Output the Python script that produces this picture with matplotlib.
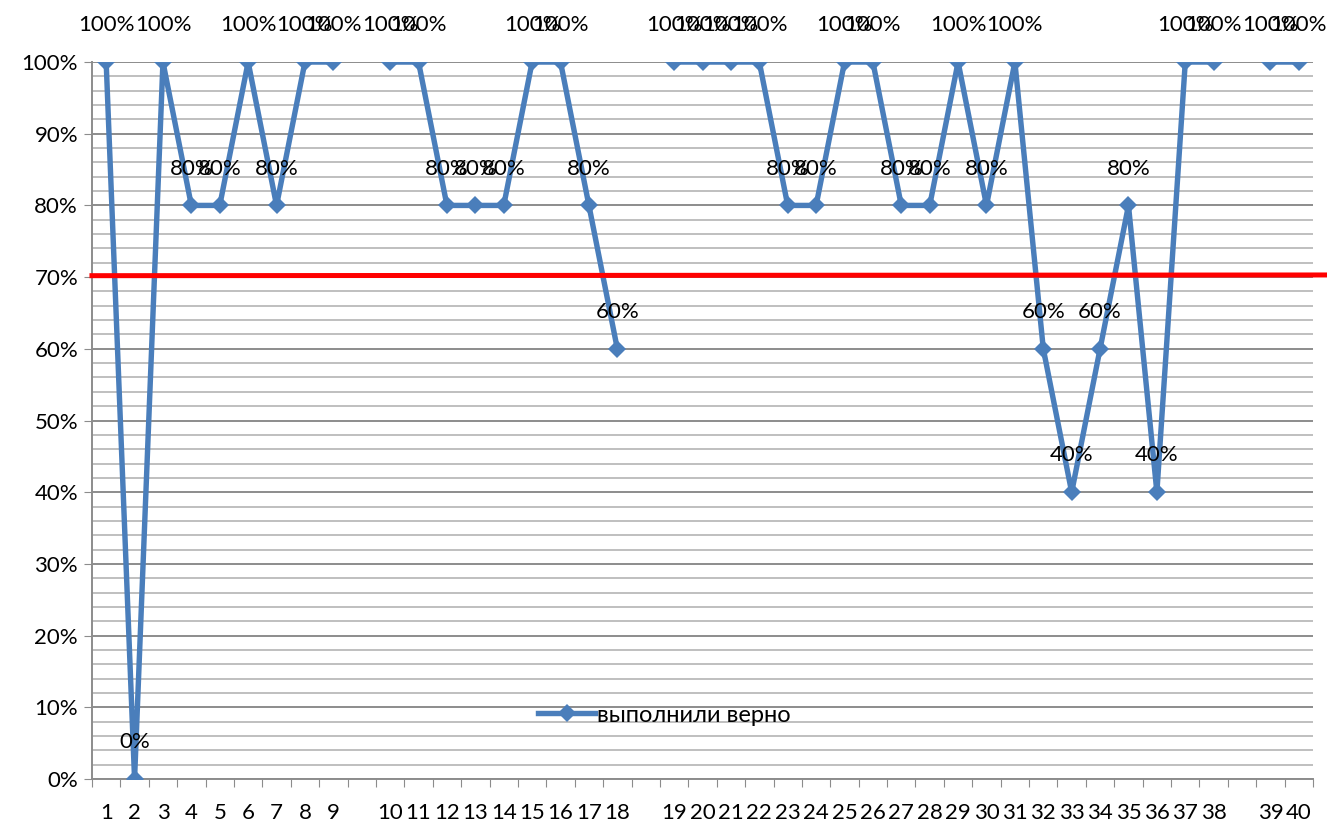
import numpy as np
import matplotlib.pyplot as plt
from matplotlib.ticker import MultipleLocator, FixedLocator

plt.rcParams['font.family'] = ['Lato', 'DejaVu Sans']

# category labels ("" = empty category in the source sheet)
categories = ['1', '2', '3', '4', '5', '6', '7', '8', '9', '',
              '10', '11', '12', '13', '14', '15', '16', '17', '18', '',
              '19', '20', '21', '22', '23', '24', '25', '26', '27', '28',
              '29', '30', '31', '32', '33', '34', '35', '36', '37', '38', '',
              '39', '40']
# percent done correctly, None where the category is blank
values = [100, 0, 100, 80, 80, 100, 80, 100, 100, None,
          100, 100, 80, 80, 80, 100, 100, 80, 60, None,
          100, 100, 100, 100, 80, 80, 100, 100, 80, 80,
          100, 80, 100, 60, 40, 60, 80, 40, 100, 100, None,
          100, 100]
threshold = 70
series_name = 'выполнили верно'

x = np.arange(len(categories))
y = np.array([np.nan if v is None else v for v in values], dtype=float)

fs = 16

fig = plt.figure(figsize=(13.27, 8.25), dpi=100)
ax = fig.add_axes([0.0693, 0.0558, 0.9202, 0.869])

ax.plot(x, y, color='#4A7EBB', lw=3.9, marker='D', markersize=9,
        markeredgewidth=0, label=series_name, zorder=3)

for xi, v in zip(x, values):
    if v is None:
        continue
    ax.annotate(f'{v}%', (xi, v), xytext=(0, 26.5), textcoords='offset points',
                ha='center', va='center', fontsize=fs, annotation_clip=False)

# red threshold line, runs a bit past the plot area
ax.plot([0, 1.012], [threshold + 0.2, threshold + 0.3], color='#FF0000', lw=3.6,
        transform=ax.get_yaxis_transform(), clip_on=False, zorder=4)

ax.set_xlim(-0.5, len(categories) - 0.5)
ax.set_ylim(0, 100)

ax.yaxis.set_major_locator(MultipleLocator(10))
ax.yaxis.set_minor_locator(MultipleLocator(2))
ax.set_yticks(np.arange(0, 101, 10))
ax.set_yticklabels([f'{t}%' for t in range(0, 101, 10)], fontsize=fs)
ax.grid(axis='y', which='major', color='#8c8c8c', lw=1.4, zorder=0)
ax.grid(axis='y', which='minor', color='#bfbfbf', lw=1.4, zorder=0)
ax.tick_params(axis='y', which='minor', length=0)
ax.tick_params(axis='y', which='major', length=6, color='#8c8c8c', pad=4)

# x ticks at category boundaries, labels in the middle
ax.xaxis.set_major_locator(FixedLocator(np.arange(-0.5, len(categories), 1)))
ax.set_xticklabels([])
ax.xaxis.set_minor_locator(FixedLocator(x))
ax.set_xticklabels(categories, minor=True, fontsize=fs)
ax.tick_params(axis='x', which='major', length=6, color='#8c8c8c')
ax.tick_params(axis='x', which='minor', length=0, pad=17)

for side in ('top', 'right'):
    ax.spines[side].set_visible(False)
for side in ('left', 'bottom'):
    ax.spines[side].set_color('#8c8c8c')
    ax.spines[side].set_linewidth(1.4)

ax.legend(loc='center', bbox_to_anchor=(0.469, 0.089), frameon=False,
          fontsize=17, handlelength=2.4, handletextpad=0.1)

fig.savefig('out.png', dpi=100)
